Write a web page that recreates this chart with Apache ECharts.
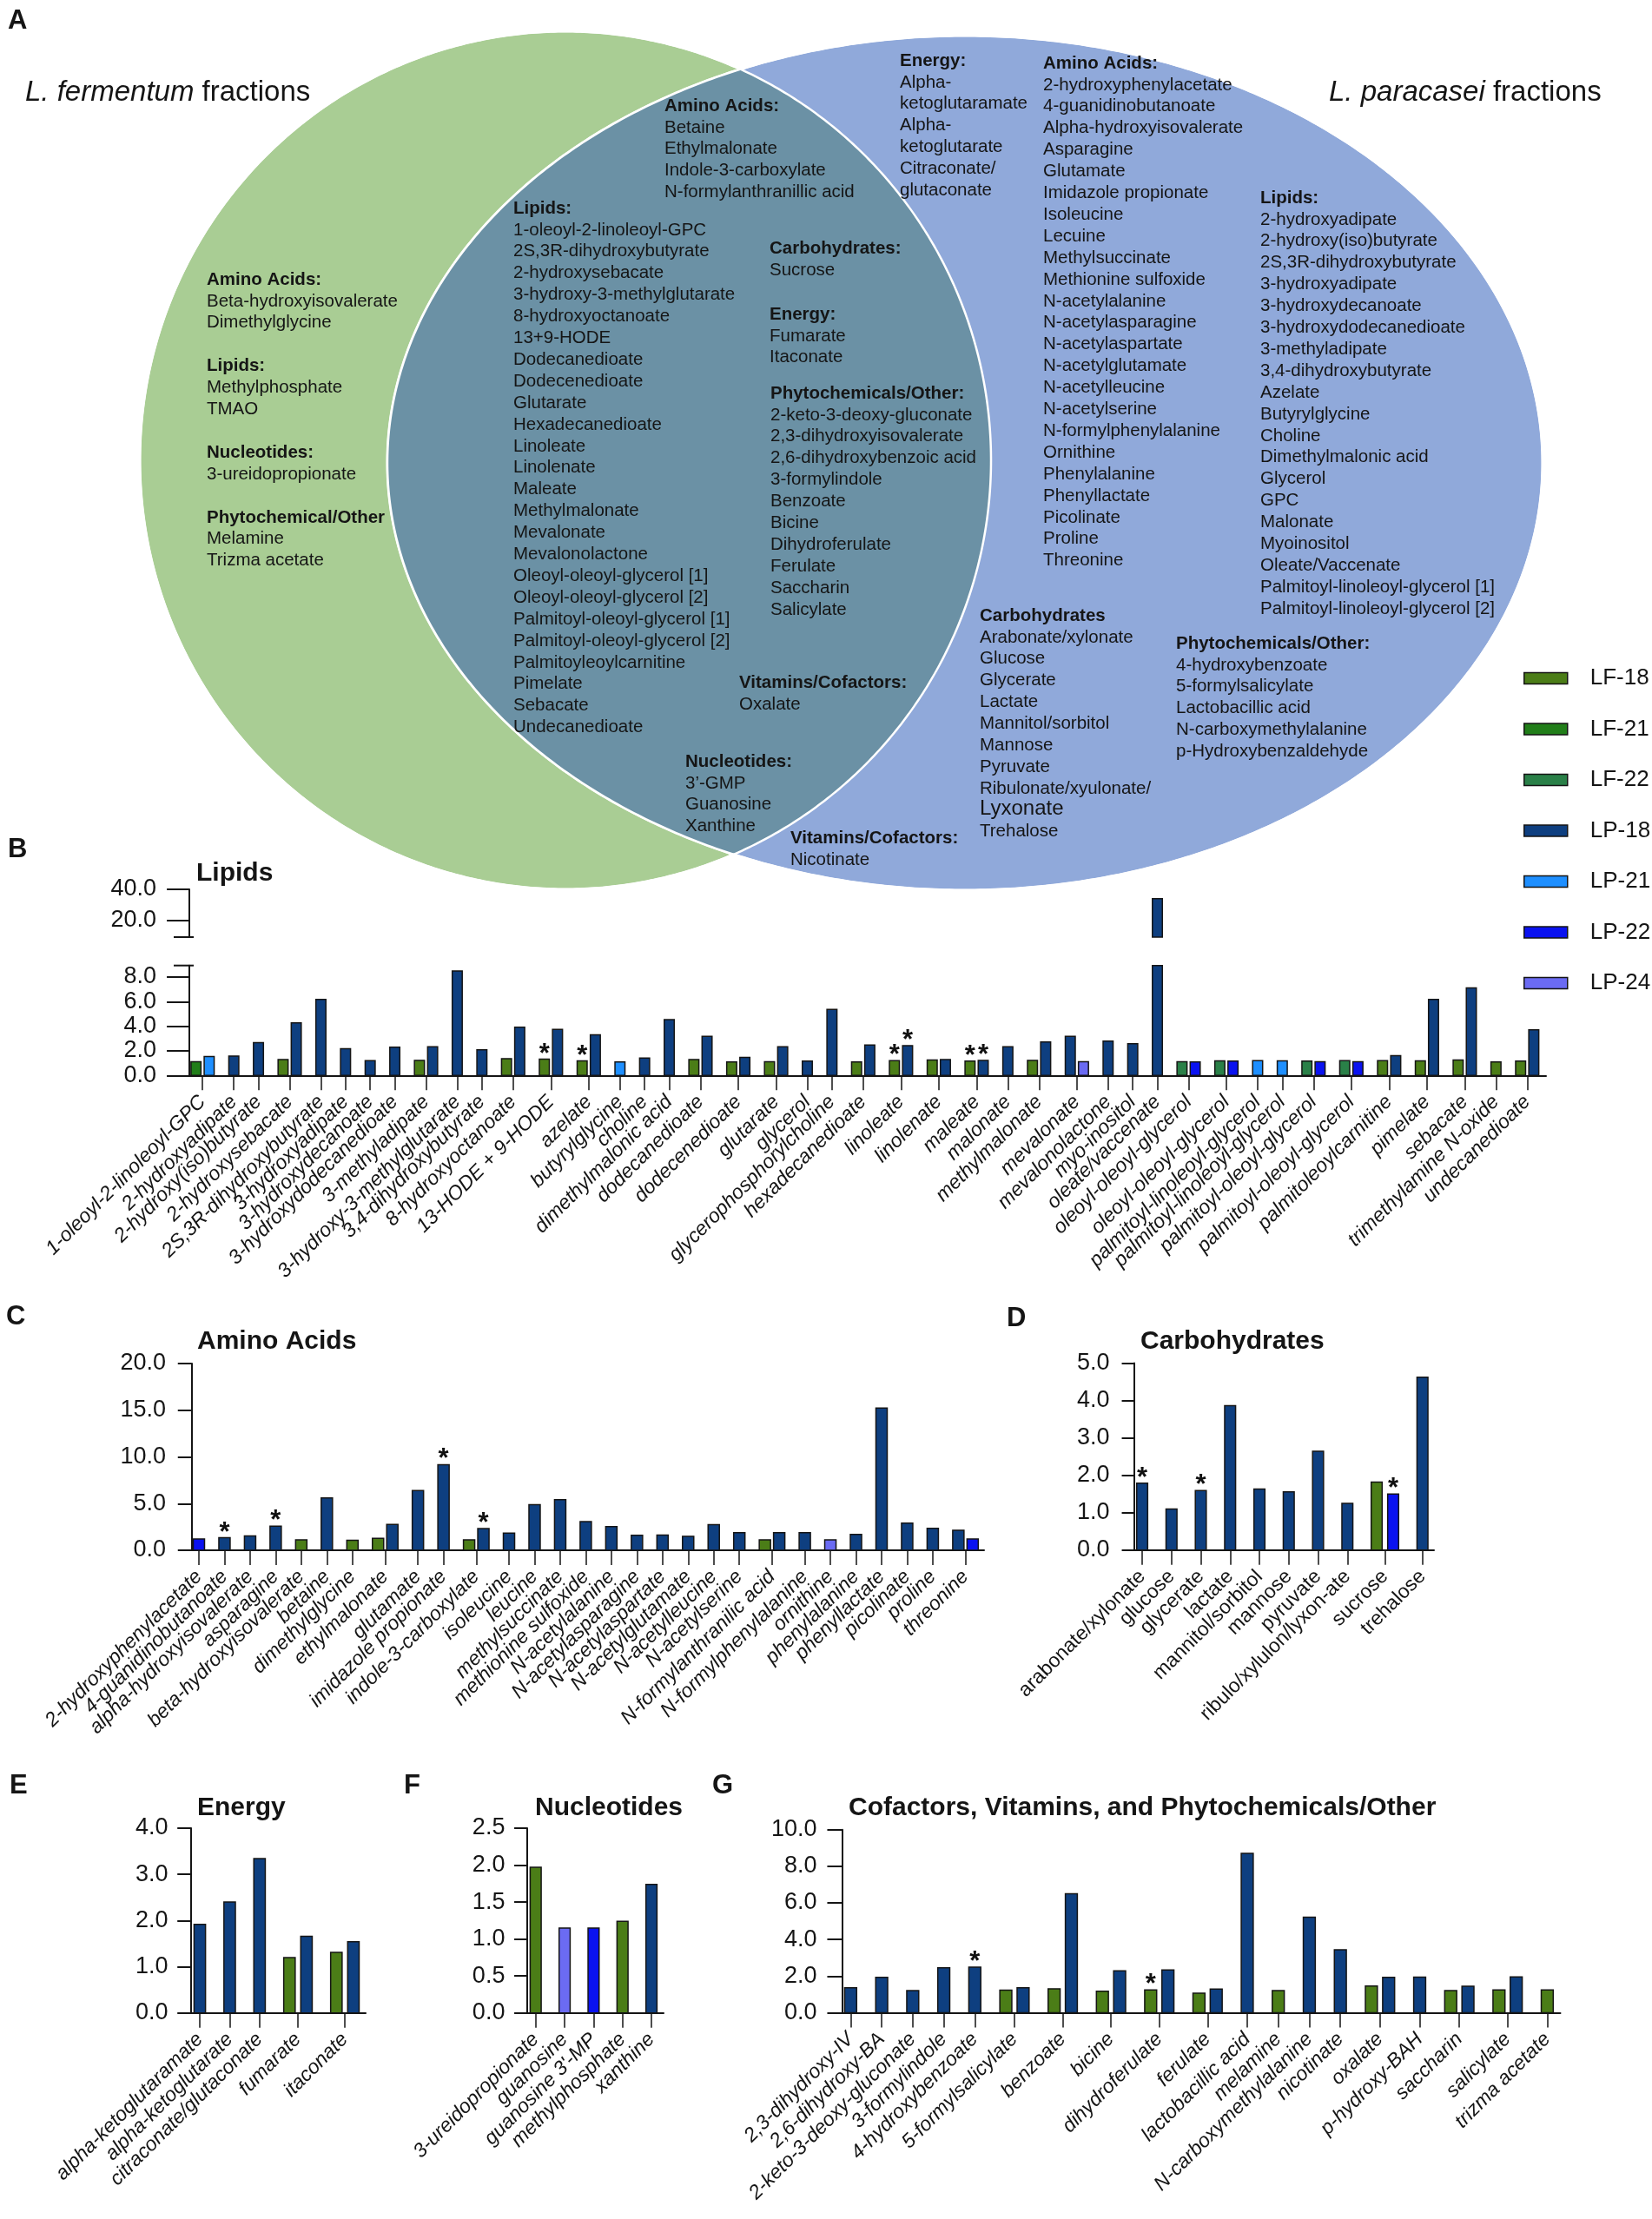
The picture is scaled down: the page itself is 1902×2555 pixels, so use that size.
<!DOCTYPE html>
<html>
<head>
<meta charset="utf-8">
<script src="https://cdn.jsdelivr.net/npm/echarts@6/dist/echarts.min.js"></script>
<style>
html, body { margin: 0; padding: 0; background: #fff; }
#chart { width: 1902px; height: 2555px; }
</style>
</head>
<body>
<div id="chart"></div>
<script>
const _ = null;
const FF = '"Liberation Sans", Arial, Helvetica, sans-serif';

// groups, in the order their bars sit inside a category
const seriesKeys = ['LF-18', 'LF-21', 'LF-22', 'LP-18', 'LP-21', 'LP-22', 'LP-24'];
const seriesColors = ['#4b7d17', '#217e19', '#2a8048', '#0e3f80', '#1e8fff', '#0a12f0', '#6b6bf3'];

// B - lipids
const lipidNames = ['1-oleoyl-2-linoleoyl-GPC', '2-hydroxyadipate', '2-hydroxy(iso)butyrate', '2-hydroxysebacate',
  '2S,3R-dihydroxybutyrate', '3-hydroxyadipate', '3-hydroxydecanoate', '3-hydroxydodecanedioate', '3-methyladipate',
  '3-hydroxy-3-methylglutarate', '3,4-dihydroxybutyrate', '8-hydroxyoctanoate', '13-HODE + 9-HODE', 'azelate',
  'butyrylglycine', 'choline', 'dimethylmalonic acid', 'dodecanedioate', 'dodecenedioate', 'glutarate', 'glycerol',
  'glycerophosphorylcholine', 'hexadecanedioate', 'linoleate', 'linolenate', 'maleate', 'malonate', 'methylmalonate',
  'mevalonate', 'mevalonolactone', 'myo-inositol', 'oleate/vaccenate', 'oleoyl-oleoyl-glycerol', 'oleoyl-oleoyl-glycerol',
  'palmitoyl-linoleoyl-glycerol', 'palmitoyl-linoleoyl-glycerol', 'palmitoyl-oleoyl-glycerol', 'palmitoyl-oleoyl-glycerol',
  'palmitoleoylcarnitine', 'pimelate', 'sebacate', 'trimethylamine N-oxide', 'undecanedioate'];
const lipidLF18 = [_, _, _, 1.30, _, _, _, _, 1.23, _, _, 1.37, 1.32, 1.18, _, _, _, 1.30, 1.09, 1.11, _, _, 1.09, 1.21, 1.25, 1.16,
  _, 1.23, _, _, _, _, _, _, _, _, _, _, 1.21, 1.18, 1.25, 1.09, 1.16];
const lipidLF21 = [1.11, _, _, _, _, _, _, _, _, _, _, _, _, _, _, _, _, _, _, _, _, _, _, _, _, _, _, _, _, _, _, _, _, _, _, _, _,
  _, _, _, _, _, _];
const lipidLF22 = [_, _, _, _, _, _, _, _, _, _, _, _, _, _, _, _, _, _, _, _, _, _, _, _, _, _, _, _, _, _, _, _, 1.11, 1.18, _, _,
  1.16, 1.21, _, _, _, _, _];
const lipidLP18 = [_, 1.58, 2.67, 4.28, 6.19, 2.17, 1.21, 2.29, 2.34, 8.50, 2.08, 3.92, 3.74, 3.31, _, 1.42, 4.54, 3.19, 1.47, 2.34,
  1.16, 5.37, 2.48, 2.43, 1.30, 1.23, 2.34, 2.72, 3.19, 2.79, 2.58, 34.0, _, _, _, _, _, _, 1.61, 6.19, 7.11, _, 3.71];
const lipidLP21 = [1.54, _, _, _, _, _, _, _, _, _, _, _, _, _, 1.09, _, _, _, _, _, _, _, _, _, _, _, _, _, _, _, _, _, _, _, 1.21,
  1.18, _, _, _, _, _, _, _];
const lipidLP22 = [_, _, _, _, _, _, _, _, _, _, _, _, _, _, _, _, _, _, _, _, _, _, _, _, _, _, _, _, _, _, _, _, 1.09, 1.16, _, _,
  1.11, 1.11, _, _, _, _, _];
const lipidLP24 = [_, _, _, _, _, _, _, _, _, _, _, _, _, _, _, _, _, _, _, _, _, _, _, _, _, _, _, _, 1.11, _, _, _, _, _, _, _, _,
  _, _, _, _, _, _];
const lipidStars = [['13-HODE + 9-HODE', 'LF-18'], ['azelate', 'LF-18'], ['linoleate', 'LF-18'], ['linoleate', 'LP-18'],
  ['maleate', 'LF-18'], ['maleate', 'LP-18']];
const lipidTicksLow = [0, 2, 4, 6, 8];
const lipidTicksHigh = [20, 40];

// C - amino acids
const aminoNames = ['2-hydroxyphenylacetate', '4-guanidinobutanoate', 'alpha-hydroxyisovalerate', 'asparagine',
  'beta-hydroxyisovalerate', 'betaine', 'dimethylglycine', 'ethylmalonate', 'glutamate', 'imidazole propionate',
  'indole-3-carboxylate', 'isoleucine', 'leucine', 'methylsuccinate', 'methionine sulfoxide', 'N-acetylalanine',
  'N-acetylasparagine', 'N-acetylaspartate', 'N-acetylglutamate', 'N-acetylleucine', 'N-acetylserine',
  'N-formylanthranilic acid', 'N-formylphenylalanine', 'ornithine', 'phenylalanine', 'phenyllactate', 'picolinate',
  'proline', 'threonine'];
const aminoLF18 = [_, _, _, _, 1.11, _, 1.08, 1.27, _, _, 1.11, _, _, _, _, _, _, _, _, _, _, 1.11, _, _, _, _, _, _, _];
const aminoLP18 = [_, 1.34, 1.53, 2.58, _, 5.61, _, 2.77, 6.39, 9.17, 2.32, 1.83, 4.89, 5.42, 3.07, 2.54, 1.60, 1.63, 1.50,
  2.74, 1.89, 1.89, 1.89, _, 1.70, 15.24, 2.90, 2.35, 2.15];
const aminoLP22 = [1.21, _, _, _, _, _, _, _, _, _, _, _, _, _, _, _, _, _, _, _, _, _, _, _, _, _, _, _, 1.21];
const aminoLP24 = [_, _, _, _, _, _, _, _, _, _, _, _, _, _, _, _, _, _, _, _, _, _, _, 1.11, _, _, _, _, _];
const aminoStars = [['4-guanidinobutanoate', 'LP-18'], ['asparagine', 'LP-18'], ['imidazole propionate', 'LP-18'],
  ['indole-3-carboxylate', 'LP-18']];
const aminoTicks = [0, 5, 10, 15, 20];

// D - carbohydrates
const carbNames = ['arabonate/xylonate', 'glucose', 'glycerate', 'lactate', 'mannitol/sorbitol', 'mannose', 'pyruvate',
  'ribulo/xylulon/lyxon-ate', 'sucrose', 'trehalose'];
const carbLF18 = [_, _, _, _, _, _, _, _, 1.82, _];
const carbLP18 = [1.79, 1.10, 1.59, 3.86, 1.63, 1.56, 2.64, 1.25, _, 4.62];
const carbLP22 = [_, _, _, _, _, _, _, _, 1.50, _];
const carbStars = [['arabonate/xylonate', 'LP-18'], ['glycerate', 'LP-18'], ['sucrose', 'LP-22']];
const carbTicks = [0, 1, 2, 3, 4, 5];

// E - energy
const energyNames = ['alpha-ketoglutaramate', 'alpha-ketoglutarate', 'citraconate/glutaconate', 'fumarate', 'itaconate'];
const energyLF18 = [_, _, _, 1.20, 1.31];
const energyLP18 = [1.92, 2.40, 3.34, 1.66, 1.54];
const energyTicks = [0, 1, 2, 3, 4];

// F - nucleotides
const nucNames = ['3-ureidopropionate', 'guanosine', "guanosine 3'-MP", 'methylphosphate', 'xanthine'];
const nucLF18 = [1.97, _, _, 1.24, _];
const nucLP18 = [_, _, _, _, 1.74];
const nucLP22 = [_, _, 1.15, _, _];
const nucLP24 = [_, 1.15, _, _, _];
const nucTicks = [0, 0.5, 1, 1.5, 2, 2.5];

// G - cofactors, vitamins, phytochemicals/other
const otherNames = ['2,3-dihydroxy-IV', '2,6-dihydroxy-BA', '2-keto-3-deoxy-gluconate', '3-formylindole', '4-hydroxybenzoate',
  '5-formylsalicylate', 'benzoate', 'bicine', 'dihydroferulate', 'ferulate', 'lactobacillic acid', 'melamine',
  'N-carboxymethylalanine', 'nicotinate', 'oxalate', 'p-hydroxy-BAH', 'saccharin', 'salicylate', 'trizma acetate'];
const otherLF18 = [_, _, _, _, _, 1.23, 1.31, 1.18, 1.25, 1.07, _, 1.21, _, _, 1.46, _, 1.21, 1.25, 1.25];
const otherLP18 = [1.36, 1.93, 1.21, 2.45, 2.49, 1.36, 6.50, 2.29, 2.34, 1.29, 8.71, _, 5.22, 3.44, 1.93, 1.95, 1.45, 1.96, _];
const otherStars = [['4-hydroxybenzoate', 'LP-18'], ['dihydroferulate', 'LF-18']];
const otherTicks = [0, 2, 4, 6, 8, 10];

// Venn text blocks ('#' marks a bold heading)
const vennBlocks = [
  { x: 238, y: 322, lines: ['#Amino Acids:', 'Beta-hydroxyisovalerate', 'Dimethylglycine', '', '#Lipids:', 'Methylphosphate',
    'TMAO', '', '#Nucleotides:', '3-ureidopropionate', '', '#Phytochemical/Other', 'Melamine', 'Trizma acetate'] },
  { x: 765, y: 122, lines: ['#Amino Acids:', 'Betaine', 'Ethylmalonate', 'Indole-3-carboxylate', 'N-formylanthranillic acid'] },
  { x: 591, y: 240, lines: ['#Lipids:', '1-oleoyl-2-linoleoyl-GPC', '2S,3R-dihydroxybutyrate', '2-hydroxysebacate',
    '3-hydroxy-3-methylglutarate', '8-hydroxyoctanoate', '13+9-HODE', 'Dodecanedioate', 'Dodecenedioate', 'Glutarate',
    'Hexadecanedioate', 'Linoleate', 'Linolenate', 'Maleate', 'Methylmalonate', 'Mevalonate', 'Mevalonolactone',
    'Oleoyl-oleoyl-glycerol [1]', 'Oleoyl-oleoyl-glycerol [2]', 'Palmitoyl-oleoyl-glycerol [1]',
    'Palmitoyl-oleoyl-glycerol [2]', 'Palmitoyleoylcarnitine', 'Pimelate', 'Sebacate', 'Undecanedioate'] },
  { x: 886, y: 286, lines: ['#Carbohydrates:', 'Sucrose'] },
  { x: 886, y: 362, lines: ['#Energy:', 'Fumarate', 'Itaconate'] },
  { x: 887, y: 453, lines: ['#Phytochemicals/Other:', '2-keto-3-deoxy-gluconate', '2,3-dihydroxyisovalerate',
    '2,6-dihydroxybenzoic acid', '3-formylindole', 'Benzoate', 'Bicine', 'Dihydroferulate', 'Ferulate', 'Saccharin', 'Salicylate'] },
  { x: 851, y: 786, lines: ['#Vitamins/Cofactors:', 'Oxalate'] },
  { x: 789, y: 877, lines: ['#Nucleotides:', '3\u2019-GMP', 'Guanosine', 'Xanthine'] },
  { x: 910, y: 965, lines: ['#Vitamins/Cofactors:', 'Nicotinate'] },
  { x: 1036, y: 70, lines: ['#Energy:', 'Alpha-', 'ketoglutaramate', 'Alpha-', 'ketoglutarate', 'Citraconate/', 'glutaconate'] },
  { x: 1201, y: 73, lines: ['#Amino Acids:', '2-hydroxyphenylacetate', '4-guanidinobutanoate', 'Alpha-hydroxyisovalerate',
    'Asparagine', 'Glutamate', 'Imidazole propionate', 'Isoleucine', 'Lecuine', 'Methylsuccinate', 'Methionine sulfoxide',
    'N-acetylalanine', 'N-acetylasparagine', 'N-acetylaspartate', 'N-acetylglutamate', 'N-acetylleucine', 'N-acetylserine',
    'N-formylphenylalanine', 'Ornithine', 'Phenylalanine', 'Phenyllactate', 'Picolinate', 'Proline', 'Threonine'] },
  { x: 1451, y: 228, lines: ['#Lipids:', '2-hydroxyadipate', '2-hydroxy(iso)butyrate', '2S,3R-dihydroxybutyrate',
    '3-hydroxyadipate', '3-hydroxydecanoate', '3-hydroxydodecanedioate', '3-methyladipate', '3,4-dihydroxybutyrate',
    'Azelate', 'Butyrylglycine', 'Choline', 'Dimethylmalonic acid', 'Glycerol', 'GPC', 'Malonate', 'Myoinositol',
    'Oleate/Vaccenate', 'Palmitoyl-linoleoyl-glycerol [1]', 'Palmitoyl-linoleoyl-glycerol [2]'] },
  { x: 1128, y: 709, lines: ['#Carbohydrates', 'Arabonate/xylonate', 'Glucose', 'Glycerate', 'Lactate', 'Mannitol/sorbitol',
    'Mannose', 'Pyruvate', 'Ribulonate/xyulonate/'] },
  { x: 1128, y: 931, size: 24, lines: ['Lyxonate'] },
  { x: 1128, y: 957, lines: ['Trehalose'] },
  { x: 1354, y: 741, lines: ['#Phytochemicals/Other:', '4-hydroxybenzoate', '5-formylsalicylate', 'Lactobacillic acid',
    'N-carboxymethylalanine', 'p-Hydroxybenzaldehyde'] }
];

function pick(arrs) {
  const o = {};
  seriesKeys.forEach((k, i) => { if (arrs[i]) o[k] = arrs[i]; });
  return o;
}

// bars of one category sit side by side, categories are separated by a gap
function layout(names, series, gap, stars) {
  let cursor = 0;
  const centers = [];
  const bars = {};
  seriesKeys.forEach(k => { bars[k] = []; });
  names.forEach((n, i) => {
    const present = seriesKeys.filter(k => series[k] && series[k][i] != null);
    present.forEach((k, j) => {
      const star = stars.some(s => s[0] === n && s[1] === k) ? 1 : 0;
      bars[k].push([cursor + j + 0.5, series[k][i], star]);
    });
    centers.push(cursor + present.length / 2);
    cursor += present.length + gap;
  });
  return { centers, bars, end: cursor - gap };
}

const panels = [
  { names: lipidNames, series: pick([lipidLF18, lipidLF21, lipidLF22, lipidLP18, lipidLP21, lipidLP22, lipidLP24]),
    stars: lipidStars, gap: 0.87, pad: [0.4, 0.43], grid: { left: 212, top: 1111.7, width: 1568, height: 126.6 },
    yMin: 0, yMax: 8.94, ticks: lipidTicksLow, barPx: 11.5, italic: true, yTick: 26, yMargin: 32, showX: true },
  { names: lipidNames, series: pick([lipidLF18, lipidLF21, lipidLF22, lipidLP18, lipidLP21, lipidLP22, lipidLP24]),
    stars: [], gap: 0.87, pad: [0.4, 0.43], grid: { left: 212, top: 1024, width: 1568, height: 55 },
    yMin: 9.44, yMax: 40, ticks: lipidTicksHigh, barPx: 11.5, italic: true, yTick: 26, yMargin: 32, showX: false },
  { names: aminoNames, series: pick([aminoLF18, _, _, aminoLP18, _, aminoLP22, aminoLP24]), stars: aminoStars,
    gap: 0.79, pad: [0.35, 0.3], grid: { left: 215, top: 1570, width: 918, height: 215 },
    yMin: 0, yMax: 20, ticks: aminoTicks, barPx: 13, italic: true, yTick: 16, yMargin: 24, showX: true },
  { names: carbNames, series: pick([carbLF18, _, _, carbLP18, _, carbLP22, _]), stars: carbStars,
    gap: 0.78, pad: [0.53, 0.2], grid: { left: 1295.5, top: 1569.5, width: 355.5, height: 215.3 },
    yMin: 0, yMax: 5, ticks: carbTicks, barPx: 12.6, italic: false, yTick: 14, yMargin: 18, showX: true },
  { names: energyNames, series: pick([energyLF18, _, _, energyLP18, _, _, _]), stars: [],
    gap: 0.755, pad: [0.24, 0.22], grid: { left: 215.5, top: 2105, width: 205.5, height: 212.8 },
    yMin: 0, yMax: 4, ticks: energyTicks, barPx: 13.2, italic: true, yTick: 16, yMargin: 22, showX: true },
  { names: nucNames, series: pick([nucLF18, _, _, nucLP18, _, nucLP22, nucLP24]), stars: [],
    gap: 0.72, pad: [0.24, 0.22], grid: { left: 602.4, top: 2105, width: 161.6, height: 212.8 },
    yMin: 0, yMax: 2.5, ticks: nucTicks, barPx: 12.7, italic: true, yTick: 15, yMargin: 21, showX: true },
  { names: otherNames, series: pick([otherLF18, _, _, otherLP18, _, _, _]), stars: otherStars,
    gap: 0.8, pad: [0.3, 0.26], grid: { left: 963.5, top: 2106.7, width: 833, height: 210.8 },
    yMin: 0, yMax: 10, ticks: otherTicks, barPx: 13.8, italic: true, yTick: 17, yMargin: 23, showX: true }
];

function makeRender(barPx, yBase) {
  return function (params, api) {
    const x = api.value(0), v = api.value(1), star = api.value(2);
    const top = api.coord([x, v]);
    const base = api.coord([x, yBase]);
    const cs = params.coordSys;
    const shape = echarts.graphic.clipRectByRect(
      { x: top[0] - barPx / 2, y: top[1], width: barPx, height: base[1] - top[1] },
      { x: cs.x, y: cs.y, width: cs.width, height: cs.height });
    if (!shape) return;
    const children = [{ type: 'rect', shape: shape,
      style: { fill: api.visual('color'), stroke: '#151515', lineWidth: 1.5 } }];
    if (star) {
      children.push({ type: 'text', x: top[0], y: top[1] + 10,
        style: { text: '*', fontSize: 31, fontWeight: 'bold', fontFamily: FF, fill: '#111',
          textAlign: 'center', align: 'center', textVerticalAlign: 'bottom', verticalAlign: 'bottom' } });
    }
    return { type: 'group', children: children };
  };
}

const grids = [], xAxes = [], yAxes = [], series = [];
panels.forEach((p, pi) => {
  const L = layout(p.names, p.series, p.gap, p.stars);
  const xMin = -p.pad[0], xMax = L.end + p.pad[1];
  grids.push(Object.assign({ containLabel: false, outerBoundsMode: 'none' }, p.grid));
  xAxes.push({
    type: 'value', gridIndex: pi, show: p.showX, min: xMin, max: xMax,
    axisLine: { show: true, onZero: false, lineStyle: { color: '#151515', width: 2 } },
    axisTick: { show: true, customValues: L.centers, length: 17, lineStyle: { color: '#151515', width: 1.5 } },
    axisLabel: {
      // blank end entries keep the min/max label overlap check away from the real names
      show: true, customValues: [xMin].concat(L.centers, [xMax]), rotate: 45, margin: 27, fontSize: 23,
      hideOverlap: false, showMinLabel: false, showMaxLabel: false,
      fontStyle: p.italic ? 'italic' : 'normal', color: '#151515', fontFamily: FF,
      formatter: function (v) {
        if (v <= xMin || v >= xMax) return '';
        let best = 0;
        L.centers.forEach((c, i) => { if (Math.abs(c - v) < Math.abs(L.centers[best] - v)) best = i; });
        return p.names[best];
      }
    },
    splitLine: { show: false }
  });
  yAxes.push({
    type: 'value', gridIndex: pi, min: p.yMin, max: p.yMax,
    axisLine: { show: true, lineStyle: { color: '#151515', width: 2 } },
    axisTick: { show: true, customValues: p.ticks, length: p.yTick, lineStyle: { color: '#151515', width: 2 } },
    axisLabel: { show: true, customValues: p.ticks, margin: p.yMargin, fontSize: 27, color: '#151515', fontFamily: FF,
      showMinLabel: true, showMaxLabel: true, formatter: v => v.toFixed(1) },
    splitLine: { show: false }
  });
  seriesKeys.forEach((k, ki) => {
    const data = L.bars[k].filter(b => b[1] > p.yMin);
    if (!data.length) return;
    series.push({
      type: 'custom', name: k, xAxisIndex: pi, yAxisIndex: pi, data: data,
      encode: { x: 0, y: 1 }, renderItem: makeRender(p.barPx, p.yMin), clip: false, silent: true,
      itemStyle: { color: seriesColors[ki], borderColor: '#151515', borderWidth: 1.5 }
    });
  });
});

// Venn outlines
function ellipsePts(e, n) {
  const pts = [];
  for (let i = 0; i < n; i++) {
    const a = (i / n) * Math.PI * 2;
    pts.push([e.cx + e.rx * Math.cos(a), e.cy + e.ry * Math.sin(a)]);
  }
  return pts;
}
function inside(e, p) {
  const dx = (p[0] - e.cx) / e.rx, dy = (p[1] - e.cy) / e.ry;
  return dx * dx + dy * dy <= 1.0000001;
}
const greenShape = { cx: 651, cy: 530, rx: 490, ry: 494 };
const blueShape = { cx: 1111, cy: 533, rx: 665, ry: 492 };
const greenPts = ellipsePts(greenShape, 720);
const bluePts = ellipsePts(blueShape, 720);
let lens = greenPts.filter(p => inside(blueShape, p)).concat(bluePts.filter(p => inside(greenShape, p)));
const lc = lens.reduce((s, p) => [s[0] + p[0] / lens.length, s[1] + p[1] / lens.length], [0, 0]);
lens.sort((a, b) => Math.atan2(a[1] - lc[1], a[0] - lc[0]) - Math.atan2(b[1] - lc[1], b[0] - lc[0]));

const graphics = [
  { type: 'polygon', z: 1, shape: { points: greenPts }, style: { fill: '#a9cd94', stroke: '#fff', lineWidth: 3 } },
  { type: 'polygon', z: 2, shape: { points: bluePts }, style: { fill: '#90a9da', stroke: '#fff', lineWidth: 3 } },
  { type: 'polygon', z: 3, shape: { points: lens }, style: { fill: '#6b91a5' } },
  { type: 'polygon', z: 4, shape: { points: greenPts }, style: { fill: 'none', stroke: '#fff', lineWidth: 2.5 } },
  { type: 'polygon', z: 4, shape: { points: bluePts }, style: { fill: 'none', stroke: '#fff', lineWidth: 2.5 } }
];

function txt(x, y, s, size, bold, extra) {
  return { type: 'text', x: x, y: y, z: 20,
    style: Object.assign({ text: s, fontFamily: FF, fontSize: size, fontWeight: bold ? 'bold' : 'normal', fill: '#151515',
      textAlign: 'left', align: 'left', textVerticalAlign: 'middle', verticalAlign: 'middle' }, extra || {}) };
}

vennBlocks.forEach(b => {
  b.lines.forEach((l, i) => {
    if (!l) return;
    const bold = l.charAt(0) === '#';
    graphics.push(txt(b.x, b.y + i * 24.9, bold ? l.slice(1) : l, b.size || 20.5, bold));
  });
});
graphics.push(txt(29, 107, '{i|L. fermentum} fractions', 33, false,
  { rich: { i: { fontStyle: 'italic', fontSize: 33, fontFamily: FF, fill: '#151515' } } }));
graphics.push(txt(1530, 107, '{i|L. paracasei} fractions', 33, false,
  { rich: { i: { fontStyle: 'italic', fontSize: 33, fontFamily: FF, fill: '#151515' } } }));

// panel letters and titles
[['A', 9, 24], ['B', 9, 978], ['C', 7, 1516], ['D', 1159, 1518], ['E', 11, 2056], ['F', 465, 2056], ['G', 820, 2056]]
  .forEach(t => graphics.push(txt(t[1], t[2], t[0], 31, true)));
[['Lipids', 226, 1006], ['Amino Acids', 227, 1545], ['Carbohydrates', 1313, 1545], ['Energy', 227, 2082],
  ['Nucleotides', 616, 2082], ['Cofactors, Vitamins, and Phytochemicals/Other', 977, 2082]]
  .forEach(t => graphics.push(txt(t[1], t[2], t[0], 30, true)));

// axis break caps on the lipid y axis
const upG = panels[1].grid, lowG = panels[0].grid;
graphics.push({ type: 'line', z: 20, shape: { x1: upG.left - 12, y1: upG.top + upG.height, x2: upG.left + 11, y2: upG.top + upG.height },
  style: { stroke: '#151515', lineWidth: 2 } });
graphics.push({ type: 'line', z: 20, shape: { x1: lowG.left - 12, y1: lowG.top, x2: lowG.left + 11, y2: lowG.top },
  style: { stroke: '#151515', lineWidth: 2 } });

const chart = echarts.init(document.getElementById('chart'), null, { renderer: 'canvas' });
chart.setOption({
  animation: false,
  backgroundColor: '#fff',
  textStyle: { fontFamily: FF },
  legend: {
    data: seriesKeys, orient: 'vertical', left: 1749, top: 763, icon: 'rect',
    itemWidth: 50, itemHeight: 13, itemGap: 32.5,
    itemStyle: { borderColor: '#151515', borderWidth: 1.5 },
    textStyle: { fontSize: 26, color: '#151515', fontFamily: FF, padding: [0, 0, 0, 21] }
  },
  grid: grids,
  xAxis: xAxes,
  yAxis: yAxes,
  series: series,
  graphic: { elements: graphics }
});
</script>
</body>
</html>
